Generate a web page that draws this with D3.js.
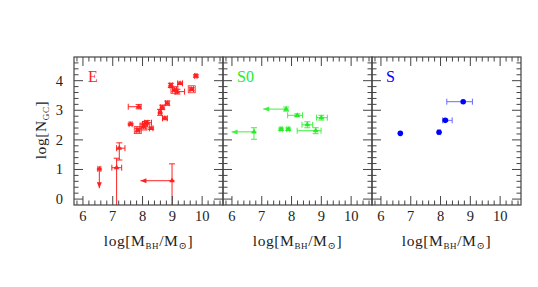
<!DOCTYPE html>
<html><head><meta charset="utf-8">
<script src="https://cdn.jsdelivr.net/npm/d3@7"></script>
<style>body{margin:0;background:#fff}text{font-family:"Liberation Serif","DejaVu Serif",serif}</style>
</head><body><svg id="c" width="538" height="287"></svg>
<script>
// Data rows: [logMBH, logNGC, xErrLo, xErrHi, yErrLo, yErrHi]
const ellipticals = [
  [6.55,1.02,0.05,0.05,0,0],
  [7.13,1.06,0.16,0.17,1.4,0.32],
  [7.22,1.72,0.09,0.19,0.40,0.18],
  [7.60,2.53,0.05,0.05,0.03,0.03],
  [7.84,2.33,0.05,0.05,0.06,0.06],
  [7.87,3.12,0.35,0.08,0.07,0.07],
  [8.03,2.45,0.08,0.08,0.08,0.08],
  [8.08,2.54,0.08,0.08,0.08,0.08],
  [8.16,2.58,0.10,0.14,0.07,0.07],
  [8.29,2.39,0.06,0.06,0.04,0.04],
  [8.59,2.93,0.05,0.05,0.10,0.10],
  [8.66,3.10,0.06,0.06,0.07,0.07],
  [8.75,2.73,0.08,0.08,0.05,0.05],
  [8.83,3.24,0.06,0.06,0.07,0.07],
  [8.95,3.84,0.05,0.05,0.07,0.07],
  [9.07,3.69,0.07,0.07,0.06,0.06],
  [9.17,3.63,0.08,0.24,0.08,0.08],
  [9.26,3.91,0.08,0.08,0.04,0.04],
  [9.65,3.71,0.06,0.06,0.05,0.05],
  [9.79,4.16,0.04,0.04,0.04,0.04],
  [8.99,0.62,0,0,0.9,0.57]
];
const ellipticalSquares = [[7.84,2.33],[8.03,2.45],[9.07,3.69],[9.65,3.71]];
// Limits: [x, y, xTo, yTo]
const ellipticalLimits = [[6.55,1.02,6.55,0.37],[8.99,0.62,7.93,0.62]];
const lenticulars = [
  [6.74,2.27,0,0,0.25,0.14],
  [7.82,3.04,0,0,0.07,0.07],
  [8.19,2.83,0.32,0.18,0.05,0.05],
  [7.65,2.36,0.04,0.04,0.04,0.04],
  [7.89,2.36,0.05,0.05,0.04,0.04],
  [8.53,2.51,0.18,0.18,0.10,0.10],
  [8.81,2.31,0.62,0.18,0.10,0.10],
  [9.00,2.75,0.16,0.20,0.08,0.08]
];
const lenticularLimits = [[6.74,2.27,5.99,2.27],[7.82,3.04,7.05,3.04]];
const spirals = [
  [6.65,2.22,0,0,0,0],
  [7.95,2.26,0.04,0.04,0,0],
  [8.16,2.66,0.09,0.23,0.04,0.04],
  [8.76,3.29,0.55,0.31,0,0]
];
const xTicks = [6,7,8,9,10];
const yTicks = [0,1,2,3,4];
const panelNames = ["E","S0","S"];

const svg = d3.select("#c");
const pTop = 57, pBottom = 205, pw = 149, left0 = 74;
const y = d3.scaleLinear().domain([-0.2,4.8]).range([pBottom, pTop]);
const frame = "#444";

const panels = [
  {color:"#ff2020", err:"#ff2020", data:ellipticals, limits:ellipticalLimits, sym:"tri"},
  {color:"#22ee22", err:"#44ee44", data:lenticulars, limits:lenticularLimits, sym:"tri"},
  {color:"#0000ff", err:"#6a6aff", data:spirals, limits:[], sym:"circle"}
];

svg.append("defs").append("clipPath").attr("id","clipall")
  .append("rect").attr("x",left0).attr("y",pTop).attr("width",pw*3).attr("height",pBottom-pTop);

panels.forEach((p,i)=>{
  const x0 = left0 + i*pw;
  const x = d3.scaleLinear().domain([5.7,10.7]).range([x0, x0+pw]);
  const g = svg.append("g");
  const cg = g.append("g").attr("clip-path","url(#clipall)");
  p.data.forEach(d=>{
    if (d[2]||d[3]) {
      cg.append("line").attr("x1",x(d[0]-d[2])).attr("x2",x(d[0]+d[3])).attr("y1",y(d[1])).attr("y2",y(d[1])).attr("stroke",p.err).attr("stroke-width",1);
      [d[0]-d[2], d[0]+d[3]].forEach(v=>cg.append("line").attr("x1",x(v)).attr("x2",x(v)).attr("y1",y(d[1])-3).attr("y2",y(d[1])+3).attr("stroke",p.err));
    }
    if (d[4]||d[5]) {
      cg.append("line").attr("x1",x(d[0])).attr("x2",x(d[0])).attr("y1",y(d[1]-d[4])).attr("y2",y(d[1]+d[5])).attr("stroke",p.err);
      [d[1]-d[4], d[1]+d[5]].forEach(v=>cg.append("line").attr("x1",x(d[0])-3).attr("x2",x(d[0])+3).attr("y1",y(v)).attr("y2",y(v)).attr("stroke",p.err));
    }
  });
  p.limits.forEach(l=>{
    cg.append("line").attr("x1",x(l[0])).attr("y1",y(l[1])).attr("x2",x(l[2])).attr("y2",y(l[3])).attr("stroke",p.err);
    const tx = x(l[2]), ty = y(l[3]);
    let pts;
    if (l[2] < l[0]) pts = [[tx,ty],[tx+6,ty-2.5],[tx+6,ty+2.5]];
    else pts = [[tx,ty],[tx-2.5,ty-6],[tx+2.5,ty-6]];
    cg.append("path").attr("d","M"+pts.map(q=>q.join(",")).join("L")+"Z").attr("fill",p.err);
  });
  p.data.forEach(d=>{
    if (p.sym==="circle") {
      cg.append("circle").attr("cx",x(d[0])).attr("cy",y(d[1])).attr("r",2.8).attr("fill",p.color);
    } else {
      cg.append("path").attr("d",d3.symbol(d3.symbolTriangle,13)())
        .attr("transform",`translate(${x(d[0])},${y(d[1])})`).attr("fill",p.color);
      cg.append("line").attr("x1",x(d[0])-2.5).attr("x2",x(d[0])+2.5).attr("y1",y(d[1])).attr("y2",y(d[1])).attr("stroke",p.color);
    }
  });
  if (i===0) ellipticalSquares.forEach(s=>{
    cg.append("rect").attr("x",x(s[0])-3.5).attr("y",y(s[1])-3.5).attr("width",7).attr("height",7).attr("fill","none").attr("stroke",p.color).attr("stroke-width",0.8);
  });
  g.append("rect").attr("x",x0).attr("y",pTop).attr("width",pw).attr("height",pBottom-pTop).attr("fill","none").attr("stroke",frame).attr("stroke-width",1.2);
  const minorX = d3.range(5.8,10.7,0.2).map(v=>+v.toFixed(1));
  minorX.forEach(v=>{
    const major = Math.abs(v-Math.round(v))<1e-6;
    const L = major?9:4.5;
    g.append("line").attr("x1",x(v)).attr("x2",x(v)).attr("y1",pBottom).attr("y2",pBottom-L).attr("stroke",frame);
    g.append("line").attr("x1",x(v)).attr("x2",x(v)).attr("y1",pTop).attr("y2",pTop+L).attr("stroke",frame);
  });
  const minorY = d3.range(0,4.8,0.2).map(v=>+v.toFixed(1));
  minorY.forEach(v=>{
    const major = Math.abs(v-Math.round(v))<1e-6;
    const L = major?9:4.5;
    g.append("line").attr("x1",x0).attr("x2",x0+L).attr("y1",y(v)).attr("y2",y(v)).attr("stroke",frame);
    g.append("line").attr("x1",x0+pw).attr("x2",x0+pw-L).attr("y1",y(v)).attr("y2",y(v)).attr("stroke",frame);
  });
  xTicks.forEach(t=>{
    g.append("text").attr("x",x(t)).attr("y",pBottom+16).attr("text-anchor","middle").attr("font-size",14.5).attr("fill","#222").text(t);
  });
  const xl = g.append("text").attr("x",x0+pw/2).attr("y",pBottom+41).attr("text-anchor","middle").attr("font-size",15.5).attr("letter-spacing",0.6).attr("fill","#222");
  xl.append("tspan").text("log[M");
  xl.append("tspan").attr("font-size",9).attr("dy",3).text("BH");
  xl.append("tspan").attr("dy",-3).text("/M");
  xl.append("tspan").attr("font-size",10).attr("dy",3).text("⊙");
  xl.append("tspan").attr("dy",-3).text("]");
  g.append("text").attr("x",x0+14).attr("y",pTop+25).attr("font-size",16).attr("fill",p.color).text(panelNames[i]);
});

yTicks.forEach(t=>{
  svg.append("text").attr("x",left0-11).attr("y",y(t)+5).attr("text-anchor","end").attr("font-size",14.5).attr("fill","#222").text(t);
});
const yl = svg.append("text").attr("transform",`translate(46,${(pTop+pBottom)/2 - 1}) rotate(-90)`).attr("text-anchor","middle").attr("font-size",15.5).attr("letter-spacing",0.6).attr("fill","#222");
yl.append("tspan").text("log[N");
yl.append("tspan").attr("font-size",9).attr("dy",3).text("GC");
yl.append("tspan").attr("dy",-3).text("]");
</script></body></html>
